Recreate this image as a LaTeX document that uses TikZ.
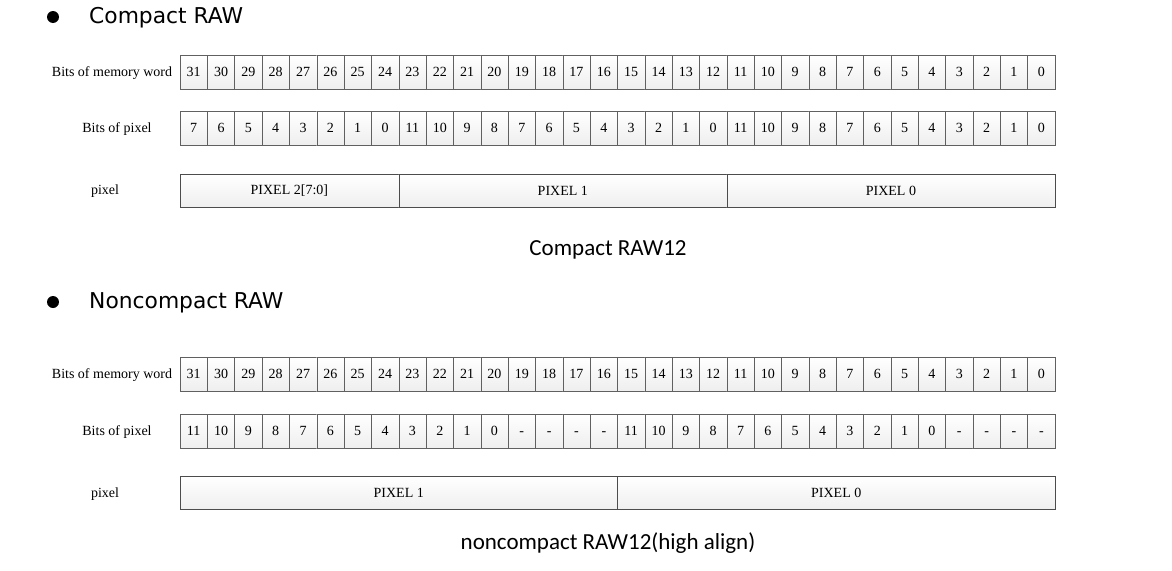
\documentclass[tikz,border=0pt]{standalone}
\usepackage{fontspec}
\setmainfont{Liberation Serif}
\newfontfamily\headfont{DejaVu Sans}
\newfontfamily\capfont{Carlito}

\def\cw{27.34375}

\begin{document}
\begin{tikzpicture}[x=1pt,y=-1pt,
   cell/.style={draw=gray!75!black, top color=white, bottom color=gray!13,
                minimum width=\cw pt, minimum height=34pt, inner sep=0pt,
                text height=9.5pt, text depth=0pt,
                font=\fontsize{14}{16}\selectfont},
   bar/.style={draw=gray!60!black, top color=white, bottom color=gray!13,
               minimum height=33pt, inner sep=0pt,
               font=\fontsize{14}{16}\selectfont},
   rowlabel/.style={font=\fontsize{14}{16}\selectfont, inner sep=0pt},
   head/.style={font=\headfont\fontsize{21.8}{25}\selectfont, anchor=west, inner sep=0pt},
   caption/.style={font=\capfont\fontsize{23}{27}\selectfont, inner sep=0pt}]

\useasboundingbox (0,0) rectangle (1172,570);

% Compact RAW
\fill (53,17) circle (6);
\node[head] (hc) at (89,18) {Compact RAW};

\node[rowlabel] (lcm) at (112,73) {Bits of memory word};
\node[rowlabel] (lcb) at (117,129) {Bits of pixel};
\node[rowlabel] (lcp) at (105,191) {pixel};

\foreach \i in {0,...,31}{
   \pgfmathtruncatemacro\b{31-\i}
   \node[cell] (cm\i) at ({180+(\i+0.5)*\cw},72) {\b};
}
\foreach \v [count=\i from 0] in {7,6,5,4,3,2,1,0,
      11,10,9,8,7,6,5,4,3,2,1,0,11,10,9,8,7,6,5,4,3,2,1,0}
   \node[cell] (cb\i) at ({180+(\i+0.5)*\cw},128) {\v};

\node[bar, minimum width={8*\cw*1pt}] (cp2) at ({180+4*\cw},191) {PIXEL 2[7:0]};
\node[bar, minimum width={12*\cw*1pt}] (cp1) at ({180+14*\cw},191) {PIXEL 1};
\node[bar, minimum width={12*\cw*1pt}] (cp0) at ({180+26*\cw},191) {PIXEL 0};

\node[caption] (cc) at (608,250) {Compact RAW12};

% Noncompact RAW
\fill (53,302) circle (6);
\node[head] (hn) at (89,303) {Noncompact RAW};

\node[rowlabel] (lnm) at (112,375) {Bits of memory word};
\node[rowlabel] (lnb) at (117,432) {Bits of pixel};
\node[rowlabel] (lnp) at (105,494) {pixel};

\foreach \i in {0,...,31}{
   \pgfmathtruncatemacro\b{31-\i}
   \node[cell] (nm\i) at ({180+(\i+0.5)*\cw},374) {\b};
}
\foreach \v [count=\i from 0] in {11,10,9,8,7,6,5,4,3,2,1,0,-,-,-,-,
      11,10,9,8,7,6,5,4,3,2,1,0,-,-,-,-}
   \node[cell] (nb\i) at ({180+(\i+0.5)*\cw},431) {\v};

\node[bar, minimum width={16*\cw*1pt}] (np1) at ({180+8*\cw},493) {PIXEL 1};
\node[bar, minimum width={16*\cw*1pt}] (np0) at ({180+24*\cw},493) {PIXEL 0};

\node[caption] (nc) at (608,543) {noncompact RAW12(high align)};

\end{tikzpicture}
\end{document}
